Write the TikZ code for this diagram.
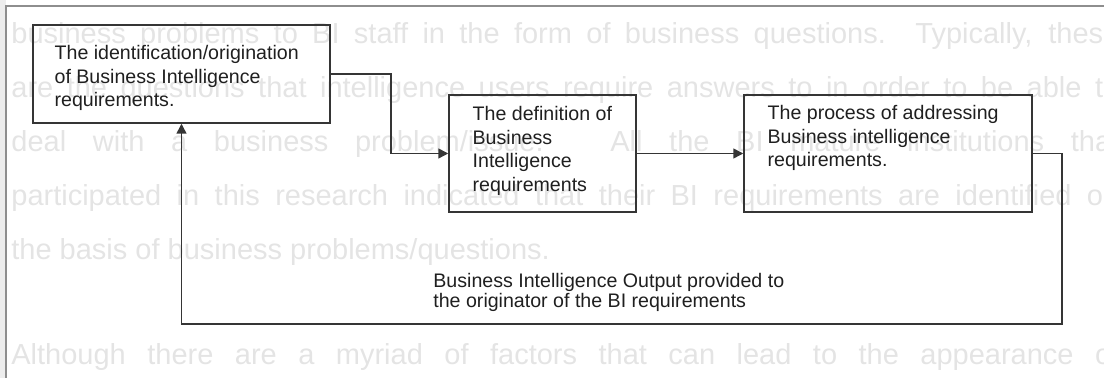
\documentclass[tikz,border=0pt]{standalone}
\usepackage{fontspec}
\setmainfont{Liberation Sans}
\usetikzlibrary{arrows.meta,positioning}

\definecolor{linegray}{HTML}{353535}
\definecolor{framegray}{HTML}{8E8E8E}
\definecolor{bleedgray}{HTML}{E4E4E4}

\tikzset{
  stagebox/.style={draw=linegray,line width=0.75pt,inner sep=0pt},
  stagetext/.style={anchor=north west,align=left,inner sep=0pt,text=black!88,
    font=\fontsize{9.8}{11.75}\selectfont},
  flow/.style={draw=linegray,line width=0.75pt,-{Triangle[length=5pt,width=5pt]}},
  bleed/.style={anchor=base west,inner sep=0pt,text=bleedgray,
    font=\fontsize{14.5}{14.5}\selectfont}
}

\begin{document}
\begin{tikzpicture}[x=0.5pt,y=-0.5pt]

    \def\w{554pt}	 %width of a line of the page behind
    \def\g{54}	 %line gap of the page behind
    \def\b{44}	 %baseline of its first line

    \useasboundingbox (0,0) rectangle (1104,378);

    %PAGE BEHIND (shows through the scan)
    \begin{scope}
    \clip (0,0) rectangle (1104,378);
    \fill[black!7] (0,0) rectangle (6,378);
    \node[bleed] (bg1) at (11,\b) {\makebox[\w][s]{business problems to BI staff in the form of business questions. Typically, these}};
    \node[bleed] (bg2) at (11,\b+\g) {\makebox[\w][s]{are the questions that intelligence users require answers to in order to be able to}};
    \node[bleed] (bg3) at (11,\b+2*\g) {\makebox[\w][s]{deal with a business problem/issue. All the BI mature institutions that}};
    \node[bleed] (bg4) at (11,\b+3*\g) {\makebox[\w][s]{participated in this research indicated that their BI requirements are identified on}};
    \node[bleed] (bg5) at (11,\b+4*\g) {the basis of business problems/questions.};
    \node[bleed] (bg6) at (11,365) {\makebox[\w][s]{Although there are a myriad of factors that can lead to the appearance of}};
    \end{scope}

    %FRAME
    \draw[framegray,line width=0.6pt] (6,378)--(6,6)--(1104,6);

    %BOXES
    \node[stagebox,minimum width=148.5pt,minimum height=49pt] (ident) at (181.5,74) {};
    \node[stagebox,minimum width=93.5pt,minimum height=58.5pt] (define) at (542.5,153.5) {};
    \node[stagebox,minimum width=144pt,minimum height=58.5pt] (address) at (888,153.5) {};

    \node[stagetext] (identtext) at ([shift={(22,21)}]ident.north west)
        {The identification/origination\\of Business Intelligence\\requirements.};
    \node[stagetext] (definetext) at ([shift={(24,12)}]define.north west)
        {The definition of\\Business\\Intelligence\\requirements};
    \node[stagetext] (addresstext) at ([shift={(24,11)}]address.north west)
        {The process of addressing\\Business intelligence\\requirements.};

    %CONNECTORS
    \draw[flow] (ident.east)--++(60,0) |- (define.west);
    \draw[flow] (define)--(address);
    \coordinate (loop) at (1062,324);
    \draw[flow] (address.east) -| (loop) -| (ident.south);	%feedback to the originator

    \node[stagetext,font=\fontsize{9.8}{10}\selectfont] (output) at (433,273)
        {Business Intelligence Output provided to\\the originator of the BI requirements};

\end{tikzpicture}
\end{document}
